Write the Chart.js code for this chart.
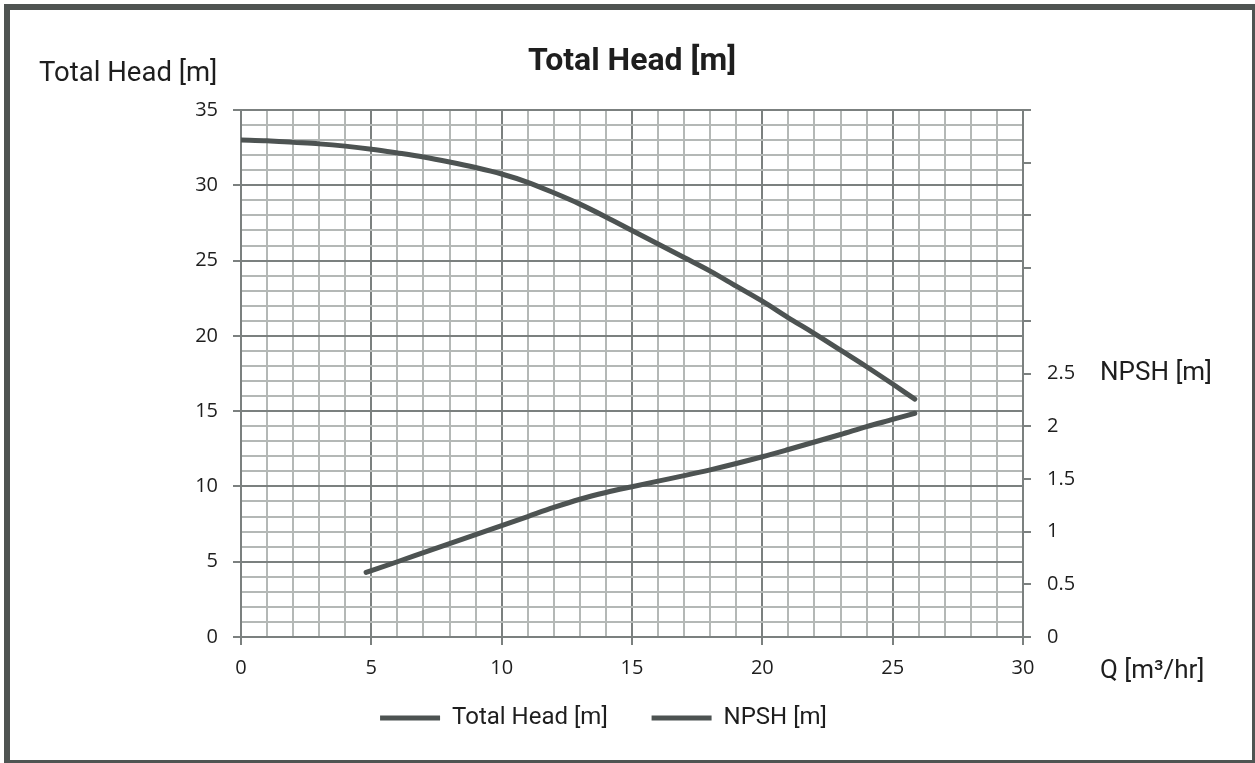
<!DOCTYPE html>
<html>
<head>
<meta charset="utf-8">
<script src="https://cdn.jsdelivr.net/npm/chart.js@4.4.1/dist/chart.umd.min.js"></script>
<style>
  html, body { margin: 0; padding: 0; background: #fff; overflow: hidden; }
  #wrap { position: absolute; left: 0; top: 0; width: 1255px; height: 763px; }
  #frame { position: absolute; left: 4px; top: 4px; width: 1254px; height: 762px;
           border: 6px solid #4f5452; box-sizing: border-box; pointer-events: none; }
</style>
</head>
<body>
<div id="wrap"><canvas id="pumpChart"></canvas></div>
<div id="frame"></div>
<script>
// flow rate Q [m3/hr] and readings
const headFlow = [0, 1, 2, 3, 4, 5, 6, 7, 8, 9, 10, 11, 12, 13, 14, 15, 16, 17, 18, 19, 20, 21, 22, 23, 24, 25, 25.85];
const totalHead = [33.0, 32.95, 32.85, 32.75, 32.6, 32.4, 32.15, 31.88, 31.55, 31.18, 30.75, 30.2, 29.5, 28.75, 27.9, 27.0, 26.1, 25.2, 24.3, 23.3, 22.3, 21.2, 20.15, 19.05, 17.95, 16.8, 15.8];

const npshFlow = [4.8, 6, 7, 8, 9, 10, 11, 12, 13, 14, 15, 16, 17, 18, 19, 20, 21, 22, 23, 24, 25, 25.85];
const npsh = [0.613, 0.714, 0.8, 0.886, 0.971, 1.057, 1.143, 1.229, 1.307, 1.371, 1.426, 1.479, 1.531, 1.586, 1.646, 1.71, 1.779, 1.85, 1.921, 1.996, 2.064, 2.123];

const seriesNames = ['Total Head [m]', 'NPSH [m]'];
const chartTitle = 'Total Head [m]';
const leftAxisTitle = 'Total Head [m]';
const rightAxisTitle = 'NPSH [m]';
const xAxisTitle = 'Q [m\u00b3/hr]';

const lineColor = '#4d5352';
const majorGrid = '#7b807f';
const minorGrid = '#b4b8b6';
const textColor = '#1e1e1e';

const toPoints = (xs, ys) => xs.map((x, i) => ({ x: x, y: ys[i] }));

const freeLabels = {
  id: 'freeLabels',
  afterDraw(chart) {
    const ctx = chart.ctx;
    const area = chart.chartArea;
    ctx.save();
    ctx.fillStyle = textColor;
    ctx.textBaseline = 'middle';

    ctx.font = 'bold 32px Roboto';
    ctx.textAlign = 'center';
    ctx.fillText(chartTitle, (area.left + area.right) / 2, area.top - 48);

    ctx.font = '26px Roboto';
    ctx.textAlign = 'left';
    ctx.fillText(rightAxisTitle, area.right + 77, chart.scales.y1.getPixelForValue(2.5));
    ctx.fillText(xAxisTitle, area.right + 77, area.bottom + 34);
    ctx.font = '27.5px Roboto';
    ctx.fillText(leftAxisTitle, 39, area.top - 36);
    ctx.restore();
  }
};

const ctx = document.getElementById('pumpChart').getContext('2d');

new Chart(ctx, {
  type: 'line',
  data: {
    datasets: [
      {
        label: seriesNames[0],
        data: toPoints(headFlow, totalHead),
        yAxisID: 'y',
        borderColor: lineColor,
        backgroundColor: lineColor,
        borderWidth: 5,
        borderCapStyle: 'round',
        pointRadius: 0,
        cubicInterpolationMode: 'monotone',
      },
      {
        label: seriesNames[1],
        data: toPoints(npshFlow, npsh),
        yAxisID: 'y1',
        borderColor: lineColor,
        backgroundColor: lineColor,
        borderWidth: 5,
        borderCapStyle: 'round',
        pointRadius: 0,
        cubicInterpolationMode: 'monotone',
      },
    ],
  },
  options: {
    responsive: true,
    maintainAspectRatio: false,
    animation: false,
    layout: {
      padding: { left: 0, top: 110, right: 48, bottom: 23 },
    },
    scales: {
      x: {
        type: 'linear',
        min: 0,
        max: 30,
        ticks: {
          stepSize: 1,
          autoSkip: false,
          maxRotation: 0,
          minRotation: 0,
          padding: 11,
          color: textColor,
          font: { family: 'Open Sans', size: 20 },
          callback: (v) => (v % 5 === 0 ? String(v) : ''),
        },
        grid: {
          color: (c) => (c.tick && c.tick.value % 5 === 0 ? majorGrid : minorGrid),
          tickColor: (c) => (c.tick && c.tick.value % 5 === 0 ? majorGrid : 'rgba(0,0,0,0)'),
          lineWidth: 2,
          tickLength: 8,
        },
        border: { color: majorGrid, width: 2 },
        afterFit: (scale) => {
          const legendH = scale.chart.legend ? scale.chart.legend.height : 0;
          scale.height = 763 - 23 - legendH - 637;
        },
      },
      y: {
        position: 'left',
        min: 0,
        max: 35,
        ticks: {
          stepSize: 1,
          autoSkip: false,
          padding: 15,
          color: textColor,
          font: { family: 'Open Sans', size: 20 },
          callback: (v) => (v % 5 === 0 ? String(v) : ''),
        },
        grid: {
          color: (c) => (c.tick && c.tick.value % 5 === 0 ? majorGrid : minorGrid),
          tickColor: (c) => (c.tick && c.tick.value % 5 === 0 ? majorGrid : 'rgba(0,0,0,0)'),
          lineWidth: 2,
          tickLength: 8,
        },
        border: { color: majorGrid, width: 2 },
        afterFit: (scale) => { scale.width = 241; },
      },
      y1: {
        position: 'right',
        min: 0,
        max: 5,
        ticks: {
          stepSize: 0.5,
          autoSkip: false,
          padding: 16,
          color: textColor,
          font: { family: 'Open Sans', size: 20 },
          callback: (v) => (v <= 2.5 ? String(v) : ''),
        },
        grid: {
          drawOnChartArea: false,
          color: majorGrid,
          lineWidth: 2,
          tickLength: 8,
        },
        border: { color: majorGrid, width: 2 },
        afterFit: (scale) => { scale.width = 184; },
      },
    },
    plugins: {
      title: { display: false },
      tooltip: { enabled: false },
      legend: {
        position: 'bottom',
        labels: {
          usePointStyle: true,
          pointStyle: 'line',
          pointStyleWidth: 60,
          padding: 20,
          color: textColor,
          font: { family: 'Roboto', size: 24 },
          // extra gap after the first entry, like the original legend
          generateLabels: (chart) => {
            const items = Chart.defaults.plugins.legend.labels.generateLabels(chart);
            items.forEach((item, i) => {
              if (i < items.length - 1) item.text = item.text + '    ';
            });
            return items;
          },
        },
      },
    },
  },
  plugins: [freeLabels],
});
</script>
</body>
</html>
